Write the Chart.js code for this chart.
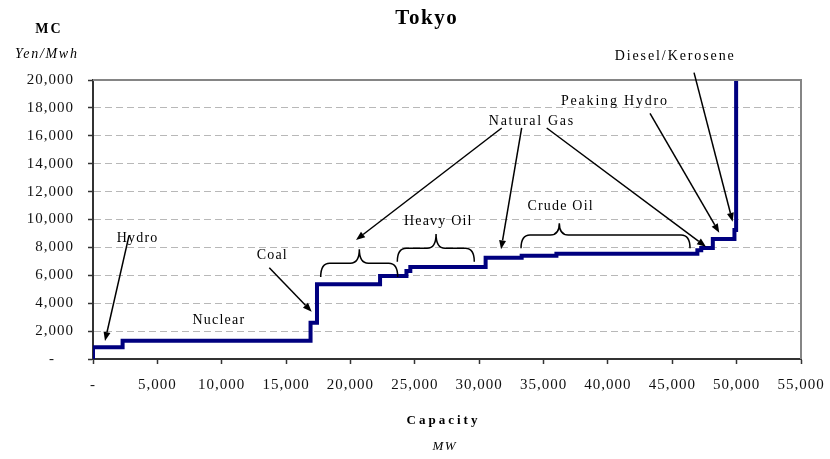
<!DOCTYPE html>
<html>
<head>
<meta charset="utf-8">
<script src="https://cdn.jsdelivr.net/npm/chart.js@4.4.1/dist/chart.umd.min.js"></script>
<style>
  html, body { margin: 0; padding: 0; background: #fff; }
  #wrap { width: 830px; height: 459px; }
</style>
</head>
<body>
<div id="wrap"><canvas id="c" width="830" height="459"></canvas></div>
<script>
// ---- Data ----
const chartTitle = 'Tokyo';
// supply-curve segments: start capacity (MW) and marginal cost (Yen/MWh)
const segStartMW = [0, 2300, 16900, 17400, 22300, 24350, 24650, 30500, 33300, 36000, 46950, 47250, 48150, 49830, 49960];
const segMcYen   = [850, 1300, 2600, 5350, 5950, 6300, 6600, 7250, 7400, 7550, 7800, 7950, 8600, 9250, 20000];
const xTicksMW = [0, 5000, 10000, 15000, 20000, 25000, 30000, 35000, 40000, 45000, 50000, 55000];
const yTicksYen = [0, 2000, 4000, 6000, 8000, 10000, 12000, 14000, 16000, 18000, 20000];

// annotation labels: text, capacity, cost
const labelText = ['Hydro', 'Coal', 'Nuclear', 'Heavy Oil', 'Crude Oil', 'Natural Gas', 'Peaking Hydro', 'Diesel/Kerosene'];
const labelMW   = [3418, 13880, 9735, 26775, 36280, 34025, 40473, 45155];
const labelYen  = [8674, 7455, 2745, 9842, 10968, 17061, 18444, 21680];

// arrows: from (fromMW, fromYen) to tip (toMW, toYen)
const arrowFromMW  = [2797, 13695, 31750, 33300, 35245, 43270, 46690];
const arrowFromYen = [8840, 6545, 16560, 16560, 16560, 17610, 20525];
const arrowToMW    = [932, 16990, 20430, 31700, 47620, 48650, 49690];
const arrowToYen   = [1290, 3390, 8530, 7860, 8050, 9050, 9840];

// braces: left, peak, right capacity; end, bar, peak cost
const braceLeftMW  = [17690, 23640, 33250];
const bracePeakMW  = [20690, 26650, 36225];
const braceRightMW = [23670, 29620, 46380];
const braceEndYen  = [5880, 6975, 7935];
const braceBarYen  = [6860, 7935, 8890];
const bracePeakYen = [7860, 8960, 9728];

// ---- styling (not data) ----
const labelSpacing = [1.2, 1.2, 1.2, 1.2, 1.2, 1.7, 1.8, 1.9];

// ---- build points for the stepped line ----
const pts = [{x: segStartMW[0], y: 0}];
for (let i = 0; i < segStartMW.length; i++) {
  pts.push({x: segStartMW[i], y: segMcYen[i]});
  if (i + 1 < segStartMW.length) pts.push({x: segStartMW[i + 1], y: segMcYen[i]});
}

const fmt = v => v === 0 ? '-' : v.toLocaleString('en-US');
const SERIF = '"Liberation Serif", "Times New Roman", serif';
Chart.defaults.font.family = SERIF;
Chart.defaults.color = '#111';

function txt(ctx, s, x, y, font, spacing) {
  ctx.save();
  ctx.font = font;
  ctx.letterSpacing = spacing + 'px';
  ctx.fillStyle = '#000';
  ctx.textAlign = 'center';
  ctx.textBaseline = 'middle';
  ctx.fillText(s, x + spacing / 2, y);
  ctx.restore();
}

const spacingPlugin = {
  id: 'spacing',
  beforeUpdate(chart) { chart.ctx.letterSpacing = '1px'; },
  beforeDraw(chart) { chart.ctx.letterSpacing = '1px'; }
};

const annotPlugin = {
  id: 'annot',
  afterDraw(chart) {
    const ctx = chart.ctx;
    const xs = chart.scales.x, ys = chart.scales.y;
    const X = v => xs.getPixelForValue(v), Y = v => ys.getPixelForValue(v);
    const a = chart.chartArea;
    // frame top/right
    ctx.save();
    ctx.strokeStyle = '#858585';
    ctx.lineWidth = 2;
    ctx.beginPath();
    ctx.moveTo(a.left, a.top);
    ctx.lineTo(a.right, a.top);
    ctx.lineTo(a.right, a.bottom);
    ctx.stroke();
    ctx.restore();

    // braces
    ctx.save();
    ctx.strokeStyle = '#000';
    ctx.lineWidth = 1.5;
    for (let i = 0; i < braceLeftMW.length; i++) {
      const x1 = X(braceLeftMW[i]), xp = X(bracePeakMW[i]), x2 = X(braceRightMW[i]);
      const yb = Y(braceEndYen[i]), yh = Y(braceBarYen[i]), yp = Y(bracePeakYen[i]);
      const r = 9;
      ctx.beginPath();
      ctx.moveTo(x1, yb);
      ctx.quadraticCurveTo(x1, yh, x1 + r, yh);
      ctx.lineTo(xp - r, yh);
      ctx.quadraticCurveTo(xp, yh, xp, yp);
      ctx.quadraticCurveTo(xp, yh, xp + r, yh);
      ctx.lineTo(x2 - r, yh);
      ctx.quadraticCurveTo(x2, yh, x2, yb);
      ctx.stroke();
    }
    // arrows
    for (let i = 0; i < arrowFromMW.length; i++) {
      const x1 = X(arrowFromMW[i]), y1 = Y(arrowFromYen[i]);
      const x2 = X(arrowToMW[i]), y2 = Y(arrowToYen[i]);
      const ang = Math.atan2(y2 - y1, x2 - x1);
      const hl = 9, hw = 3.5;
      const bx = x2 - hl * Math.cos(ang), by = y2 - hl * Math.sin(ang);
      ctx.beginPath();
      ctx.moveTo(x1, y1);
      ctx.lineTo(bx, by);
      ctx.stroke();
      ctx.beginPath();
      ctx.moveTo(x2, y2);
      ctx.lineTo(bx + hw * Math.sin(ang), by - hw * Math.cos(ang));
      ctx.lineTo(bx - hw * Math.sin(ang), by + hw * Math.cos(ang));
      ctx.closePath();
      ctx.fillStyle = '#000';
      ctx.fill();
    }
    ctx.restore();

    // labels
    for (let i = 0; i < labelText.length; i++) {
      txt(ctx, labelText[i], X(labelMW[i]), Y(labelYen[i]), '14px ' + SERIF, labelSpacing[i]);
    }
    // titles
    txt(ctx, chartTitle, 426, 19, 'bold 21px ' + SERIF, 1.5);
    txt(ctx, 'MC', 48, 29, 'bold 14px ' + SERIF, 2);
    txt(ctx, 'Yen/Mwh', 46, 54, 'italic 14px ' + SERIF, 1.7);
    txt(ctx, 'Capacity', 442, 421, 'bold 13px ' + SERIF, 3);
    txt(ctx, 'MW', 444, 447, 'italic 13px ' + SERIF, 1.5);
  }
};

new Chart(document.getElementById('c'), {
  type: 'line',
  data: {
    datasets: [{
      data: pts,
      borderColor: '#00007f',
      borderWidth: 4,
      pointRadius: 0,
      tension: 0,
      fill: false
    }]
  },
  options: {
    responsive: false,
    animation: false,
    layout: { padding: { left: 0, right: 29, top: 80, bottom: 60 } },
    plugins: { legend: { display: false }, tooltip: { enabled: false }, title: { display: false } },
    scales: {
      x: {
        type: 'linear',
        min: 0, max: 55000,
        afterFit: s => { s.height = 40; s.paddingLeft = 0; s.paddingRight = 0; },
        afterBuildTicks: s => { s.ticks = xTicksMW.map(v => ({value: v})); },
        ticks: { callback: v => fmt(v), font: { size: 15 }, color: '#111', padding: 12, maxRotation: 0, autoSkip: false },
        grid: { drawOnChartArea: false, drawTicks: true, tickLength: 5, tickColor: '#333', tickWidth: 1.5 },
        border: { color: '#333', width: 2 }
      },
      y: {
        min: 0, max: 20000,
        afterFit: s => { s.width = 93; s.paddingTop = 0; s.paddingBottom = 0; },
        afterBuildTicks: s => { s.ticks = yTicksYen.map(v => ({value: v})); },
        ticks: { callback: v => v === 0 ? '-    ' : fmt(v), font: { size: 15 }, color: '#111', padding: 14, autoSkip: false },
        grid: {
          color: c => (c.tick && (c.tick.value === 0 || c.tick.value === 20000)) ? 'rgba(0,0,0,0)' : '#b8b8b8',
          lineWidth: 1, drawTicks: true, tickLength: 5, tickColor: '#333', tickWidth: 1.5
        },
        border: { color: '#333', width: 2, dash: [7, 4] }
      }
    }
  },
  plugins: [spacingPlugin, annotPlugin]
});
</script>
</body>
</html>
